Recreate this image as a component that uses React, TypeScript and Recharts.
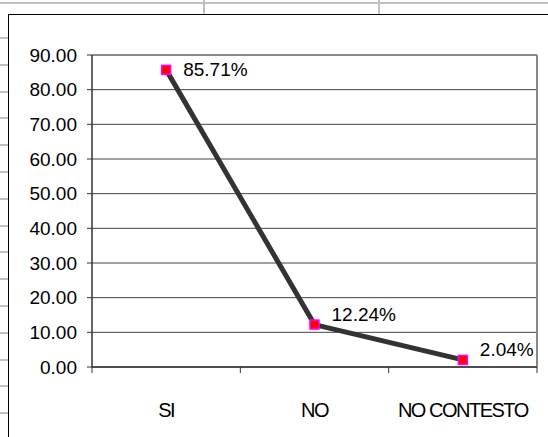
import { LineChart, Line, XAxis, YAxis, CartesianGrid, LabelList } from "recharts";

// Respuestas de la encuesta (porcentaje)
const categories = ["SI", "NO", "NO CONTESTO"];
const percentages = [85.71, 12.24, 2.04];
const yTicks = [0, 10, 20, 30, 40, 50, 60, 70, 80, 90];

const data = categories.map((name, i) => ({ name, value: percentages[i] }));

// Geometría del gráfico
const WIDTH = 548;
const HEIGHT = 437;
const TOP = 55;
const LEFT = 92;
const RIGHT = 11;
const X_AXIS_H = 70;
const PLOT_W = WIDTH - LEFT - RIGHT;
const PLOT_H = HEIGHT - TOP - X_AXIS_H;
const HALF_BAND = PLOT_W / categories.length / 2;
const AXIS_Y = TOP + PLOT_H;

const FONT = "'Liberation Sans', Arial, sans-serif";

// desplazamiento vertical de cada etiqueta para que no pise la línea
const labelLift = [0, -10, -10];

// filas de la hoja de cálculo que asoman por la izquierda
const rowLines = Array.from({ length: 15 }, (_, i) => 37 + i * 26.8);

const SquareDot = (props: any) => {
  const { cx, cy } = props;
  if (cx == null || cy == null) return null;
  return (
    <rect
      x={cx - 4.5}
      y={cy - 4.5}
      width={9}
      height={9}
      fill="#ff0000"
      stroke="#ff00ff"
      strokeWidth={1.5}
    />
  );
};

const CategoryTick = (props: any) => {
  const { x, payload, index } = props;
  const last = index === categories.length - 1;
  return (
    <g>
      <line x1={x - HALF_BAND} y1={AXIS_Y} x2={x - HALF_BAND} y2={AXIS_Y + 6} stroke="#333" />
      {last && (
        <line x1={x + HALF_BAND} y1={AXIS_Y} x2={x + HALF_BAND} y2={AXIS_Y + 6} stroke="#333" />
      )}
      <text
        x={x}
        y={AXIS_Y + 43}
        textAnchor="middle"
        dominantBaseline="central"
        fontSize={20}
        letterSpacing={-1.5}
        fontFamily={FONT}
        fill="#000"
      >
        {payload.value}
      </text>
    </g>
  );
};

const ValueLabel = (props: any) => {
  const { x, y, value, index } = props;
  return (
    <text
      x={x + 17}
      y={y + labelLift[index]}
      dominantBaseline="central"
      fontSize={19}
      fontFamily={FONT}
      fill="#000"
    >
      {Number(value).toFixed(2)}%
    </text>
  );
};

export default function App() {
  return (
    <div
      style={{
        position: "absolute",
        left: 0,
        top: 0,
        width: WIDTH,
        height: HEIGHT,
        background: "#fff",
        overflow: "hidden",
      }}
    >
      {/* cuadrícula de la hoja */}
      <div style={{ position: "absolute", left: 0, top: 2, width: WIDTH, height: 2, background: "#c0c0c0" }} />
      <div style={{ position: "absolute", left: 203, top: 0, width: 2, height: 14, background: "#c0c0c0" }} />
      <div style={{ position: "absolute", left: 378, top: 0, width: 2, height: 14, background: "#c0c0c0" }} />
      {rowLines.map((y) => (
        <div key={y} style={{ position: "absolute", left: 0, top: y, width: 8, height: 2, background: "#c0c0c0" }} />
      ))}

      {/* marco del gráfico */}
      <div
        style={{
          position: "absolute",
          left: 8,
          top: 14,
          width: WIDTH,
          height: HEIGHT,
          borderLeft: "1px solid #000",
          borderTop: "1px solid #000",
          background: "#fff",
        }}
      />

      <div style={{ position: "absolute", left: 0, top: 0 }}>
        <LineChart
          width={WIDTH}
          height={HEIGHT}
          data={data}
          margin={{ top: TOP, right: RIGHT, bottom: 0, left: 0 }}
        >
          <CartesianGrid vertical={false} stroke="#444" />
          <CartesianGrid
            horizontalPoints={[TOP]}
            verticalPoints={[LEFT + PLOT_W]}
            stroke="#888"
            strokeWidth={2}
          />
          <XAxis
            dataKey="name"
            height={X_AXIS_H}
            padding={{ left: HALF_BAND, right: HALF_BAND }}
            axisLine={{ stroke: "#333", strokeWidth: 1.5 }}
            tickLine={false}
            tick={<CategoryTick />}
            interval={0}
          />
          <YAxis
            width={LEFT}
            domain={[0, 90]}
            ticks={yTicks}
            tickFormatter={(v: number) => v.toFixed(2)}
            axisLine={{ stroke: "#333", strokeWidth: 1.5 }}
            tickLine={{ stroke: "#333" }}
            tickSize={5}
            tickMargin={10}
            tick={{ fontSize: 19, fontFamily: FONT, fill: "#000" }}
          />
          <Line
            type="linear"
            dataKey="value"
            stroke="#333333"
            strokeWidth={5}
            dot={<SquareDot />}
            activeDot={false}
            isAnimationActive={false}
          >
            <LabelList dataKey="value" content={<ValueLabel />} />
          </Line>
        </LineChart>
      </div>
    </div>
  );
}
